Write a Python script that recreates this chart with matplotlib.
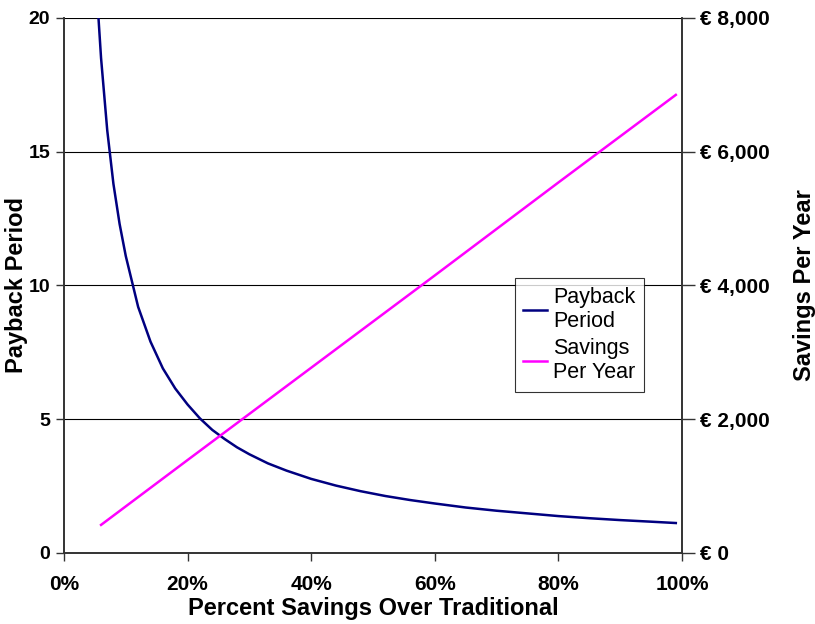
import numpy as np
import matplotlib.pyplot as plt
from matplotlib.ticker import FuncFormatter

plt.rcParams['font.family'] = ['Liberation Sans', 'DejaVu Sans']

# percent savings over traditional (x values, %)
payback_pct = [5, 6, 7, 8, 9, 10, 12, 14, 16, 18, 20, 22, 24, 26, 28, 30, 33, 36,
               40, 44, 48, 52, 56, 60, 65, 70, 75, 80, 85, 90, 95, 99]
payback_years = [22.1, 18.5, 15.8, 13.8, 12.3, 11.1, 9.2, 7.9, 6.9, 6.15, 5.55, 5.03,
                 4.6, 4.26, 3.95, 3.69, 3.35, 3.08, 2.77, 2.52, 2.31, 2.13, 1.98,
                 1.85, 1.70, 1.58, 1.48, 1.38, 1.30, 1.23, 1.17, 1.12]

savings_pct = [6, 20, 40, 60, 80, 99]
savings_eur = [420, 1390, 2770, 4150, 5540, 6850]

fig = plt.figure(figsize=(8.15, 6.24), dpi=100)
ax = fig.add_axes([0.0785, 0.1138, 0.7583, 0.8574])
ax2 = ax.twinx()

l1, = ax.plot(np.array(payback_pct) / 100, payback_years, color='#000080', lw=1.8,
              label='Payback\nPeriod')
l2, = ax2.plot(np.array(savings_pct) / 100, savings_eur, color='#FF00FF', lw=1.8,
               label='Savings\nPer Year')

ax.set_xlim(0, 1)
ax.set_ylim(0, 20)
ax2.set_ylim(0, 8000)
ax.set_xticks(np.arange(0, 1.01, 0.2))
ax.set_yticks([0, 5, 10, 15, 20])
ax2.set_yticks([0, 2000, 4000, 6000, 8000])
ax.xaxis.set_major_formatter(FuncFormatter(lambda v, p: '{:.0f}%'.format(v * 100)))
ax2.yaxis.set_major_formatter(FuncFormatter(lambda v, p: '€ {:,.0f}'.format(v)))

ax.yaxis.grid(True, color='black', lw=0.8)
ax.set_axisbelow(True)

for a in (ax, ax2):
    a.spines['top'].set_visible(False)
    for s in ('left', 'bottom', 'right'):
        a.spines[s].set_color('#333333')
        a.spines[s].set_linewidth(1.2)
    a.tick_params(width=1.0, length=6, color='#333333', labelsize=15)
    for t in a.get_xticklabels() + a.get_yticklabels():
        t.set_fontweight('bold')

ax.tick_params(axis='x', pad=10)
ax.tick_params(axis='y', pad=4, labelsize=14)
ax2.tick_params(axis='y', length=9, pad=4)

ax.set_xlabel('Percent Savings Over Traditional', fontsize=17, fontweight='bold')
ax.set_ylabel('Payback Period', fontsize=17, fontweight='bold')
ax2.set_ylabel('Savings Per Year', fontsize=17, fontweight='bold')
ax.xaxis.set_label_coords(0.5, -0.082)
ax.yaxis.set_label_coords(-0.058, 0.5)
ax2.yaxis.set_label_coords(1.180, 0.5)

leg = ax2.legend(handles=[l1, l2], loc='upper left', bbox_to_anchor=(0.729, 0.514),
                 fontsize=15.5, frameon=True, fancybox=False, edgecolor='black',
                 handlelength=1.1, handletextpad=0.3, borderpad=0.4, labelspacing=0.3,
                 borderaxespad=0)
leg.get_frame().set_linewidth(0.8)

fig.savefig('out.png', dpi=100)
